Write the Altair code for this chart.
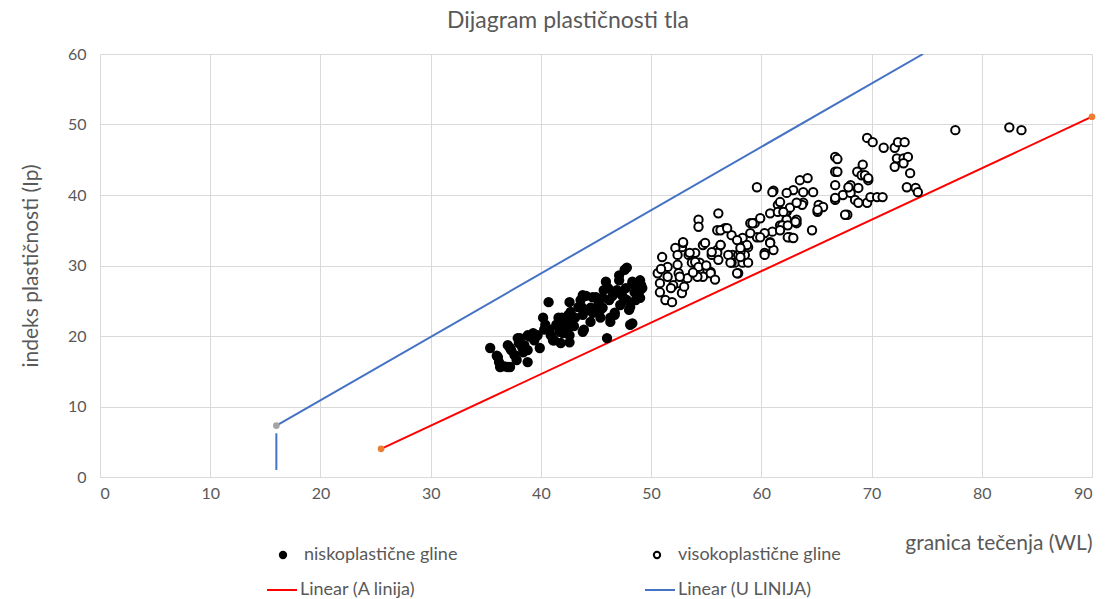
import altair as alt
import pandas as pd

# --- data ---
nisko_wl = [35.4, 36.0, 36.2, 36.3, 36.7, 37.0, 37.0, 37.3, 37.6, 37.8, 38.0, 38.1, 38.5, 38.8, 38.8,
            39.0, 39.4, 39.7, 39.9, 40.3, 40.4, 40.2, 40.7, 40.9, 41.2, 41.4, 41.6, 41.7, 41.8, 42.0,
            42.4, 42.6, 42.7, 42.6, 43.0, 43.1, 43.4, 43.6, 43.8, 43.9, 44.1, 44.3, 44.5, 44.7, 45.0,
            45.2, 45.4, 45.6, 45.7, 45.9, 46.0, 46.2, 46.3, 46.5, 46.7, 46.9, 47.1, 47.2, 47.4, 47.6,
            47.7, 47.8, 48.0, 48.1, 48.3, 48.5, 48.6, 48.8, 49.0, 49.1, 47.8, 47.1, 46.1, 43.8, 44.7,
            45.6, 47.2, 48.3, 49.0, 49.2, 49.0, 48.1, 46.3, 48.3, 43.8, 42.6, 43.7, 44.5, 45.4, 46.7,
            37.2, 37.2, 38.3, 38.4, 38.8, 39.3, 40.8, 41.1, 41.9, 42.0, 42.4, 42.5, 36.1, 37.9]
nisko_ip = [18.3, 17.2, 16.3, 15.6, 15.7, 15.6, 18.7, 18.0, 17.3, 16.6, 19.0, 19.7, 18.7, 18.0, 16.3,
            19.9, 19.4, 20.1, 18.3, 20.9, 21.6, 22.6, 24.8, 20.1, 19.4, 21.6, 22.6, 20.6, 19.0, 21.4,
            22.3, 20.1, 23.4, 24.8, 21.4, 22.6, 24.1, 25.1, 23.0, 20.9, 25.7, 23.7, 22.0, 23.3, 25.5,
            24.4, 22.6, 24.0, 26.5, 27.7, 19.7, 25.1, 22.0, 25.7, 23.0, 26.5, 27.9, 24.4, 25.7, 29.4,
            26.8, 25.1, 23.7, 21.6, 27.4, 26.2, 25.1, 27.2, 26.5, 27.2, 29.7, 28.6, 26.8, 25.8, 25.5,
            25.4, 26.1, 27.7, 27.9, 26.8, 25.4, 24.1, 22.6, 21.8, 20.6, 19.1, 24.1, 24.0, 23.7, 23.3,
            18.3, 15.6, 18.4, 17.7, 20.1, 20.4, 20.9, 19.4, 22.6, 20.4, 21.1, 23.0, 17.0, 19.7]

visoko_wl = [51.0, 50.6, 50.8, 50.8, 51.3, 51.9, 51.5, 52.4, 52.5, 52.5, 52.8, 52.9, 53.4, 53.7, 54.0,
             54.4, 54.7, 55.4, 55.5, 56.0, 56.3, 57.4, 57.6, 57.9, 58.3, 58.5, 58.8, 52.8,
             56.1, 54.3, 54.3, 56.0, 56.7, 57.3, 54.9, 56.3, 58.3, 59.0, 59.4, 59.9, 60.8, 61.5, 61.5,
             62.3, 62.3, 61.7, 61.0, 60.3, 59.6, 60.8, 60.3, 61.1, 62.6, 63.2, 58.7, 57.9, 58.8, 57.8,
             58.1, 69.2, 68.7, 69.1, 69.7, 66.7, 66.7, 68.1, 68.8, 67.4, 68.1, 66.7, 68.5, 68.8, 69.6,
             69.9, 70.5, 71.0, 67.8, 63.5, 64.2, 62.9, 63.8, 64.7, 63.8, 63.7, 65.2, 65.6, 65.1, 62.2,
             62.3, 63.2, 62.4, 62.9, 64.6, 61.9, 69.6, 70.1, 71.1, 72.1, 72.4, 73.0, 72.3, 72.9, 73.3,
             72.1, 72.9, 73.5, 73.2, 74.0, 74.2, 69.4, 69.7, 77.6, 82.5, 83.6, 59.6, 66.7, 66.9, 66.9,
             61.1, 62.3, 65.1, 67.6, 66.7, 67.9, 59.2, 61.7, 61.0, 62.6, 62.0, 57.8, 58.1, 57.3, 60.3,
             60.8, 59.9, 61.7, 62.4, 63.1, 63.2, 59.0, 52.2, 52.4, 52.9, 53.5, 54.0, 54.3, 55.1, 55.4,
             54.7, 54.2, 53.3, 52.6, 52.0, 51.5, 56.3, 56.9, 57.0, 56.0, 55.5, 56.1, 57.2, 58.1, 50.9,
             53.8, 55.0, 51.8, 53.0, 55.8]
visoko_ip = [31.2, 28.9, 27.5, 26.2, 25.1, 24.8, 29.8, 30.1, 28.9, 27.5, 32.6, 33.2, 31.5, 30.4, 31.8,
             30.4, 32.9, 29.1, 31.5, 32.2, 32.9, 31.5, 30.4, 28.9, 30.4, 31.5, 32.6, 26.1,
             37.4, 36.5, 35.5, 35.0, 35.3, 34.3, 33.2, 32.9, 33.9, 36.0, 36.0, 36.7, 37.4, 38.6, 37.6,
             37.6, 36.5, 35.7, 34.8, 34.6, 34.0, 33.3, 31.8, 32.2, 34.0, 36.0, 32.9, 31.5, 30.4, 28.9,
             31.9, 44.3, 43.3, 42.8, 42.1, 43.3, 41.4, 41.4, 41.0, 40.0, 40.3, 39.3, 39.3, 38.9, 38.9,
             39.7, 39.7, 39.7, 37.2, 42.1, 42.4, 40.7, 40.4, 40.4, 38.9, 38.6, 38.6, 38.3, 37.6, 37.6,
             36.5, 36.5, 34.0, 33.9, 35.0, 35.7, 48.1, 47.5, 46.7, 46.7, 47.5, 47.5, 45.2, 45.2, 45.4,
             44.0, 44.5, 43.1, 41.1, 41.0, 40.4, 42.8, 42.4, 49.2, 49.6, 49.2, 41.1, 45.4, 45.1, 43.3,
             40.6, 40.3, 37.9, 37.2, 39.6, 41.1, 36.0, 39.0, 40.4, 38.2, 37.6, 33.6, 32.5, 30.4, 31.5,
             33.2, 34.0, 35.0, 35.7, 36.2, 38.9, 34.6, 32.5, 31.5, 33.3, 31.8, 30.5, 29.8, 29.4, 28.9,
             28.4, 28.4, 28.2, 28.4, 27.2, 28.4, 35.0, 35.3, 31.5, 31.8, 31.9, 30.8, 30.4, 31.2, 29.5,
             29.0, 30.0, 26.8, 27.0, 28.0]

serije = ["niskoplastične gline", "visokoplastične gline"]

# trend lines (A line, U line with its vertical segment)
linije = ["Linear (A linija)", "Linear (A linija)",
          "Linear (U LINIJA)", "Linear (U LINIJA)", "Linear (U LINIJA)", "Linear (U LINIJA)"]
segmenti = ["A", "A", "U1", "U1", "U2", "U2"]
lin_wl = [25.5, 90.0, 16.0, 74.67, 16.0, 16.0]
lin_ip = [4.0, 51.1, 7.3, 60.0, 1.0, 6.2]

# end points of the lines
tocke_wl = [16.0, 25.5, 90.0]
tocke_ip = [7.3, 4.0, 51.1]
tocke_boja = ["#a5a5a5", "#ed7d31", "#ed7d31"]

x_ticks = [0, 10, 20, 30, 40, 50, 60, 70, 80, 90]
y_ticks = [0, 10, 20, 30, 40, 50, 60]

FONT = "Lato"
GREY = "#595959"

df_pts = pd.DataFrame({
    "WL": nisko_wl + visoko_wl,
    "Ip": nisko_ip + visoko_ip,
    "serija": [serije[0]] * len(nisko_wl) + [serije[1]] * len(visoko_wl),
})
df_lin = pd.DataFrame({"WL": lin_wl, "Ip": lin_ip, "linija": linije, "seg": segmenti})
df_end = pd.DataFrame({"WL": tocke_wl, "Ip": tocke_ip, "boja": tocke_boja})

x_enc = alt.X("WL:Q", scale=alt.Scale(domain=[0, 90], nice=False),
              axis=alt.Axis(values=x_ticks, title="granica tečenja (WL)", titleAnchor="end",
                            titleAlign="right", titlePadding=31, labelPadding=8))
y_enc = alt.Y("Ip:Q", scale=alt.Scale(domain=[0, 60], nice=False),
              axis=alt.Axis(values=y_ticks, title="indeks plastičnosti (Ip)", titlePadding=26,
                            labelPadding=14))

lines = alt.Chart(df_lin).mark_line(strokeWidth=2, clip=True).encode(
    x=x_enc, y=y_enc,
    stroke=alt.Stroke("linija:N",
                      scale=alt.Scale(domain=["Linear (A linija)", "Linear (U LINIJA)"],
                                      range=["#ff0000", "#4472c4"]),
                      legend=alt.Legend(title=None, orient="none", direction="horizontal",
                                        legendX=166, legendY=520, symbolType="stroke",
                                        symbolSize=900, symbolStrokeWidth=2, labelOffset=2,
                                        columnPadding=225, padding=0, labelLimit=400)),
    detail="seg:N",
)

pts = alt.Chart(df_pts).mark_point(filled=True, size=70, stroke="black", strokeWidth=2,
                                   opacity=1).encode(
    x="WL:Q", y="Ip:Q",
    fill=alt.Fill("serija:N", scale=alt.Scale(domain=serije, range=["black", "white"]),
                  legend=alt.Legend(title=None, orient="none", direction="horizontal",
                                    legendX=174, legendY=492, symbolType="circle",
                                    symbolSize=40, symbolStrokeColor="black",
                                    symbolStrokeWidth=2, labelOffset=12,
                                    columnPadding=190, padding=0, labelLimit=400)),
)

ends = alt.Chart(df_end).mark_circle(size=45, opacity=1).encode(
    x="WL:Q", y="Ip:Q", color=alt.Color("boja:N", scale=None),
)

chart = alt.layer(lines, pts, ends).properties(
    width=992, height=423,
    title=alt.TitleParams("Dijagram plastičnosti tla", font=FONT, fontSize=23,
                          fontWeight="normal", color=GREY, offset=13, dx=-28),
    autosize=alt.AutoSizeParams(type="none"),
    padding={"left": 92, "top": 46, "right": 8, "bottom": 122},
).configure_view(stroke=None).configure_axis(
    grid=True, gridColor="#d9d9d9", gridWidth=1, domainColor="#d9d9d9", domainWidth=1,
    ticks=False, labelFont=FONT, labelFontSize=16, labelColor=GREY,
    titleFont=FONT, titleFontSize=21, titleFontWeight="normal", titleColor=GREY,
).configure_axisY(domain=False).configure_legend(
    labelFont=FONT, labelFontSize=18, labelColor=GREY,
)

chart.save("out.html", embed_options={"renderer": "svg", "actions": False})
